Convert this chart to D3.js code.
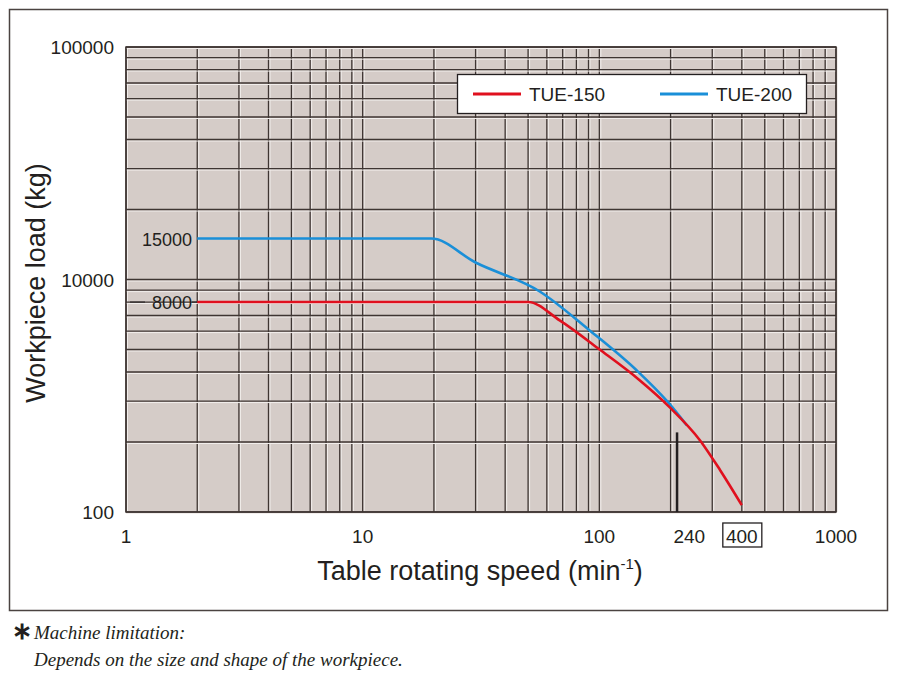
<!DOCTYPE html>
<html><head><meta charset="utf-8">
<script src="https://cdn.jsdelivr.net/npm/d3@7"></script>
<style>body{margin:0;background:#fff}svg{display:block}</style>
</head><body>
<svg id="chart" width="900" height="685"></svg>
<script>
// speeds (min-1) and loads (kg)
const tue150Speed = [2, 50, 68, 100, 148, 198, 266, 324, 400];
const tue150Load  = [8000, 8000, 6670, 5010, 3690, 2826, 2037, 1513, 1070];
const tue200Speed = [2, 19.5, 30, 56, 91, 144, 195, 234];
const tue200Load  = [15000, 15000, 11830, 8880, 6040, 4060, 2966, 2360];
const xTicks = [1, 10, 100, 1000];
const xTickLabels = ["1", "10", "100", "1000"];
const yTicks = [1000, 10000, 100000];
const yTickLabels = ["100", "10000", "100000"]; // bottom label printed as "100" in the original
const limitSpeed = 213, limitFrom = 1000, limitTo = 2200;

const svg = d3.select("#chart");
const pLeft = 126, pRight = 836, pTop = 47, pBottom = 512;
const x = d3.scaleLog().domain([1, 1000]).range([pLeft, pRight]);
const y = d3.scaleLog().domain([1000, 100000]).range([pBottom, pTop]);

svg.append("rect").attr("x", 9.5).attr("y", 9.5).attr("width", 878).attr("height", 601)
  .attr("fill", "#fff").attr("stroke", "#4a4340").attr("stroke-width", 1.5);
svg.append("rect").attr("x", pLeft).attr("y", pTop).attr("width", pRight - pLeft).attr("height", pBottom - pTop)
  .attr("fill", "#d5ccc8");

// grid values: 1..9 per decade
const gridX = [], gridY = [];
for (let d = 1; d <= 100; d *= 10) for (let k = 1; k <= 9; k++) gridX.push(d * k);
gridX.push(1000);
for (let d = 1000; d <= 10000; d *= 10) for (let k = 1; k <= 9; k++) gridY.push(d * k);
gridY.push(100000);

const g = svg.append("g");
gridX.forEach(v => {
  g.append("line").attr("x1", x(v) + 1.5).attr("x2", x(v) + 1.5).attr("y1", pTop).attr("y2", pBottom).attr("stroke", "#f2eeec").attr("stroke-width", 1);
  g.append("line").attr("x1", x(v)).attr("x2", x(v)).attr("y1", pTop).attr("y2", pBottom).attr("stroke", "#3e3532").attr("stroke-width", 1.3);
});
gridY.forEach(v => {
  g.append("line").attr("y1", y(v) + 1.5).attr("y2", y(v) + 1.5).attr("x1", pLeft).attr("x2", pRight).attr("stroke", "#f2eeec").attr("stroke-width", 1);
  g.append("line").attr("y1", y(v)).attr("y2", y(v)).attr("x1", pLeft).attr("x2", pRight).attr("stroke", "#3e3532").attr("stroke-width", 1.3);
});
svg.append("rect").attr("x", pLeft).attr("y", pTop).attr("width", pRight - pLeft).attr("height", pBottom - pTop)
  .attr("fill", "none").attr("stroke", "#3e3532").attr("stroke-width", 1.5);

const font = "Liberation Sans, Arial, sans-serif";
xTicks.forEach((v, i) => svg.append("text").attr("x", x(v)).attr("y", 543).attr("text-anchor", "middle")
  .attr("font-family", font).attr("font-size", 19).attr("fill", "#231f20").text(xTickLabels[i]));
yTicks.forEach((v, i) => svg.append("text").attr("x", 114).attr("y", y(v) + 7).attr("text-anchor", "end")
  .attr("font-family", font).attr("font-size", 19).attr("fill", "#231f20").text(yTickLabels[i]));

svg.append("text").attr("x", x(240)).attr("y", 543).attr("text-anchor", "middle")
  .attr("font-family", font).attr("font-size", 19).attr("fill", "#231f20").text("240");
svg.append("text").attr("x", x(400)).attr("y", 543).attr("text-anchor", "middle")
  .attr("font-family", font).attr("font-size", 19).attr("fill", "#231f20").text("400");
svg.append("rect").attr("x", x(400) - 19).attr("y", 523).attr("width", 39).attr("height", 24)
  .attr("fill", "none").attr("stroke", "#231f20").attr("stroke-width", 1.3);

// level labels
svg.append("text").attr("x", 192).attr("y", y(15000) + 7).attr("text-anchor", "end")
  .attr("font-family", font).attr("font-size", 18).attr("fill", "#231f20").text("15000");
svg.append("text").attr("x", 192).attr("y", y(8000) + 7).attr("text-anchor", "end")
  .attr("font-family", font).attr("font-size", 18).attr("fill", "#231f20").text("8000");
svg.append("line").attr("x1", 130).attr("x2", 145).attr("y1", y(8000)).attr("y2", y(8000)).attr("stroke", "#231f20");
svg.append("line").attr("x1", 192).attr("x2", x(2)).attr("y1", y(8000)).attr("y2", y(8000)).attr("stroke", "#231f20");

svg.append("line").attr("x1", x(limitSpeed)).attr("x2", x(limitSpeed)).attr("y1", y(limitTo)).attr("y2", y(limitFrom))
  .attr("stroke", "#231f20").attr("stroke-width", 2.5);

const line = d3.line().x(d => x(d[0])).y(d => y(d[1])).curve(d3.curveMonotoneX);
svg.append("path").datum(d3.zip(tue200Speed, tue200Load)).attr("d", line)
  .attr("fill", "none").attr("stroke", "#1a8fd8").attr("stroke-width", 2.6);
svg.append("path").datum(d3.zip(tue150Speed, tue150Load)).attr("d", line)
  .attr("fill", "none").attr("stroke", "#e0101e").attr("stroke-width", 2.6);

// legend
svg.append("rect").attr("x", 457.5).attr("y", 74.5).attr("width", 349).attr("height", 39)
  .attr("fill", "#fff").attr("stroke", "#231f20").attr("stroke-width", 1.3);
[["TUE-150", "#e0101e", 473], ["TUE-200", "#1a8fd8", 660]].forEach(([t, c, lx]) => {
  svg.append("line").attr("x1", lx).attr("x2", lx + 48).attr("y1", 94).attr("y2", 94).attr("stroke", c).attr("stroke-width", 3);
  svg.append("text").attr("x", lx + 56).attr("y", 101).attr("font-family", font).attr("font-size", 19)
    .attr("fill", "#231f20").text(t);
});

// axis titles
const xt = svg.append("text").attr("x", 480).attr("y", 580).attr("text-anchor", "middle")
  .attr("font-family", font).attr("font-size", 27).attr("fill", "#231f20");
xt.append("tspan").text("Table rotating speed (min");
xt.append("tspan").attr("font-size", 15).attr("dy", -11).text("-1");
xt.append("tspan").attr("dy", 11).text(")");
svg.append("text").attr("transform", "translate(45,283) rotate(-90)").attr("text-anchor", "middle")
  .attr("font-family", font).attr("font-size", 27).attr("fill", "#231f20").text("Workpiece load (kg)");

// footnote
svg.append("text").attr("x", 12).attr("y", 639).attr("font-family", font).attr("font-size", 24)
  .attr("font-weight", "bold").attr("fill", "#231f20").text("∗");
svg.append("text").attr("x", 34).attr("y", 639).attr("font-family", "Liberation Serif, serif").attr("font-style", "italic")
  .attr("font-size", 19).attr("fill", "#231f20").text("Machine limitation:");
svg.append("text").attr("x", 34).attr("y", 666).attr("font-family", "Liberation Serif, serif").attr("font-style", "italic")
  .attr("font-size", 19).attr("fill", "#231f20").text("Depends on the size and shape of the workpiece.");
</script>
</body></html>
